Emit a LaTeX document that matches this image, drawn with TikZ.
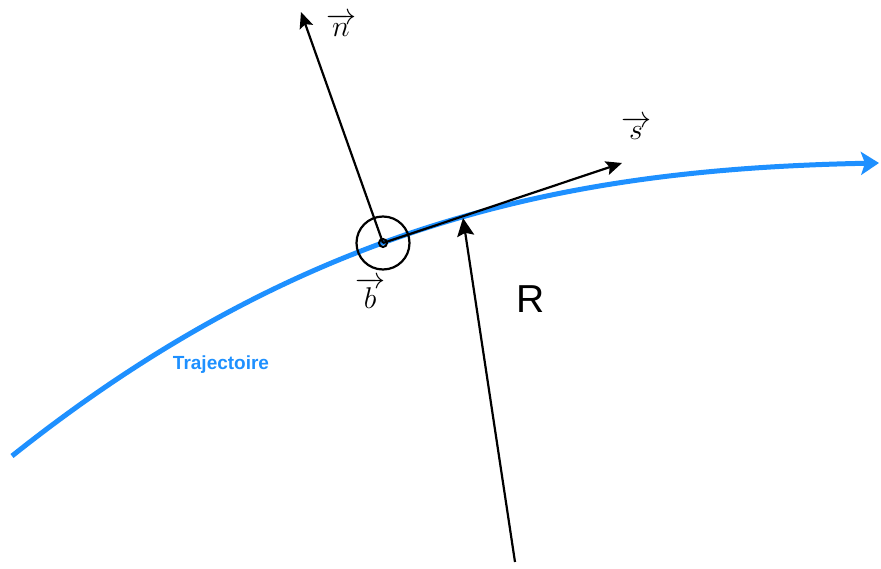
\RequirePackage{fix-cm}
\documentclass[tikz,border=0pt]{standalone}
\usepackage{fontspec}
\setsansfont{Liberation Sans}
\usetikzlibrary{arrows.meta}
\definecolor{traj}{RGB}{30,144,255}
\begin{document}
\begin{tikzpicture}[x=1pt,y=-1pt,
  vec/.style={line width=2.2pt,-{Stealth[length=16pt,width=14pt,inset=3pt]}},
  rvec/.style={line width=2.2pt,-{Stealth[length=18pt,width=17pt,inset=3pt]}},
  trajline/.style={draw=traj,line width=5pt,-{Stealth[length=18pt,width=23pt,inset=4pt]}},
  ring/.style={line width=2.2pt},
  mathlbl/.style={font=\fontsize{30}{36}\selectfont,inner sep=0pt},
  trajlbl/.style={font=\sffamily\bfseries\fontsize{19}{23}\selectfont,text=traj,inner sep=0pt},
  rlbl/.style={font=\sffamily\fontsize{39}{46}\selectfont,inner sep=0pt},
]
\useasboundingbox (0,0) rectangle (881,569);
\coordinate (start) at (12,456);
\coordinate (end) at (879,163);
\coordinate (c) at (383,243);
\coordinate (ntip) at (301,12);
\coordinate (stip) at (622,163);
\coordinate (rtail) at (515,562);
\coordinate (rtip) at (463,218);

\draw[trajline] (start) .. controls (312,217) and (581,169) .. (end);

\draw[vec] (c) -- (ntip);
\draw[vec] (c) -- (stip);
\draw[rvec] (rtail) -- (rtip);

\draw[ring] (c) circle[radius=26.5];
\draw[line width=2pt] (c) circle[radius=4];

\node[mathlbl] (nl) at (341,25) {$\overrightarrow{n}$};
\node[mathlbl] (sl) at (636,128) {$\overrightarrow{s}$};
\node[mathlbl] (bl) at (370,293) {$\overrightarrow{b}$};
\node[rlbl] (rl) at (531,299) {R};
\node[trajlbl] (tl) at (221,365) {Trajectoire};
\end{tikzpicture}
\end{document}
